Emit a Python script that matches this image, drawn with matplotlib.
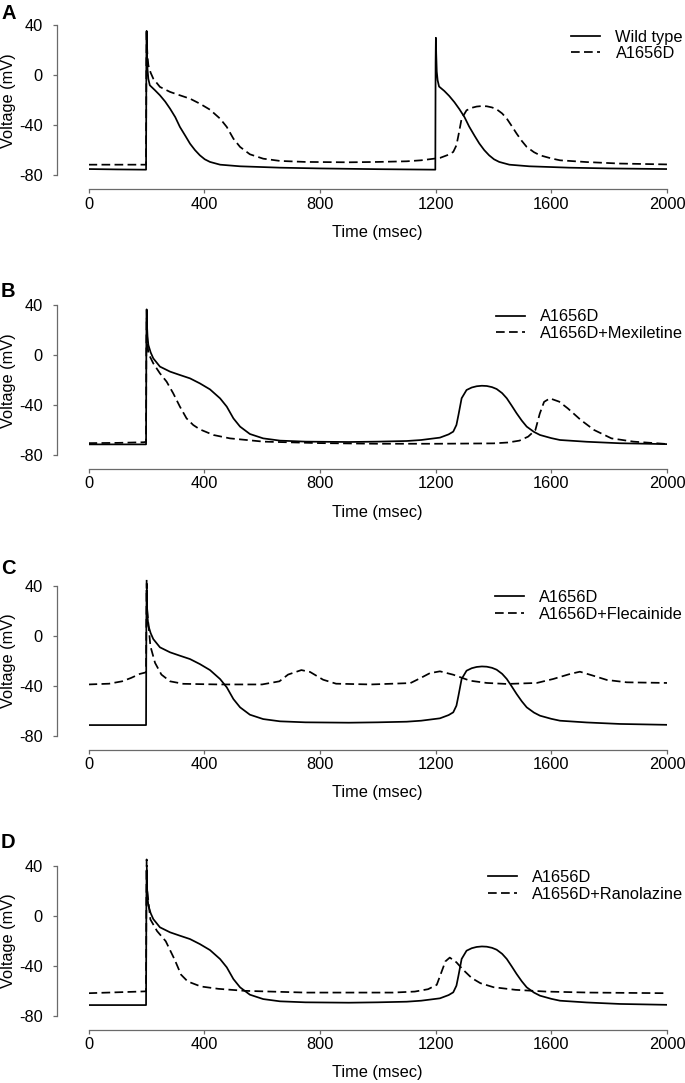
import matplotlib
matplotlib.use('Agg')
import matplotlib.pyplot as plt

plt.rcParams['font.family'] = ['Liberation Sans', 'DejaVu Sans']
plt.rcParams['axes.unicode_minus'] = False

# time axis (msec) and voltages (mV)
t_mut = [0, 100, 199, 200, 201, 202, 204, 207, 215, 224, 247, 282, 316, 351, 385, 420, 455,
         478, 501, 524, 558, 604, 662, 750, 900, 1000, 1100, 1150, 1215, 1245, 1261, 1272,
         1279, 1290, 1307, 1325, 1342, 1360, 1377, 1395, 1411, 1430, 1446, 1463, 1480, 1498,
         1515, 1540, 1561, 1600, 1630, 1722, 1837, 2000]
v_mut = [-71.5, -71.5, -71.5, 10, 36.5, 25, 15, 8, 2, -2.7, -9.3, -13.3, -16, -18.7, -22.7,
         -27.5, -34.7, -41.3, -50.7, -57.3, -63.2, -66.7, -68.5, -69.3, -69.6, -69.3, -68.8,
         -68, -66.1, -63.5, -61.3, -56, -48, -34.6, -28, -26, -25, -24.6, -24.8, -25.7, -27.2,
         -30.5, -34.6, -40.5, -46.6, -52.5, -57.3, -61.5, -64, -66.5, -68, -69.4, -70.6, -71.3]

t_wt = [0, 100, 199, 200, 201, 202, 204, 207, 212, 230, 247, 265, 282, 300, 316, 335, 351,
        368, 385, 402, 420, 455, 524, 662, 800, 1000, 1199, 1200, 1201, 1202, 1204, 1207, 1212,
        1230, 1247, 1265, 1282, 1300, 1316, 1335, 1351, 1368, 1385, 1402, 1420, 1455, 1524,
        1662, 1800, 2000]
v_wt = [-75, -75.3, -75.5, 10, 35.5, 20, 5, -3, -8, -12, -16, -21, -26.7, -33.5, -41.3, -48.5,
        -54.7, -59.8, -64, -67.2, -69.3, -71.5, -72.8, -73.9, -74.5, -75.1, -75.5, 10, 30, 18,
        3, -4, -9, -12.5, -16.5, -21.5, -27, -33.5, -41, -48.5, -54.5, -59.8, -64, -67.2,
        -69.3, -71.5, -72.8, -73.9, -74.5, -75]

t_mex = [0, 100, 190, 199, 200, 201, 203, 207, 224, 247, 270, 293, 316, 339, 362, 385, 432,
         489, 604, 800, 1000, 1200, 1400, 1450, 1490, 1520, 1545, 1560, 1575, 1595, 1627,
         1657, 1702, 1748, 1808, 1884, 2000]
v_mex = [-70.5, -70.3, -69.8, -69.5, 10, 30, 12, 1.3, -6.7, -14.7, -21.3, -30.7, -41.3, -50.7,
         -56, -59.5, -64, -66.7, -69.3, -70.5, -71, -71, -70.7, -70, -68.5, -65.3, -60, -47,
         -37.5, -34.7, -37.3, -42.7, -52, -60, -66.7, -69.3, -71.2]

t_fle = [0, 71, 116, 147, 177, 199, 200, 201, 203, 214, 230, 252, 282, 328, 449, 600, 660,
         690, 736, 766, 811, 856, 977, 1113, 1146, 1180, 1215, 1261, 1319, 1377, 1446, 1550,
         1607, 1665, 1699, 1745, 1792, 1861, 2000]
v_fle = [-39, -38.4, -36.5, -33.8, -30.6, -29.3, 10, 45, 20, -8.3, -21.7, -31.1, -36.5, -38.5,
         -39, -39, -36.5, -31.1, -27.5, -29, -35.2, -38.4, -39, -37.9, -34.1, -30, -28.5,
         -31.2, -36, -37.8, -38.6, -37.8, -34.6, -30.6, -28.8, -32, -35.4, -37.3, -37.8]

t_ran = [0, 177, 199, 200, 201, 203, 214, 237, 267, 298, 320, 343, 388, 449, 539, 751, 1053,
         1128, 1174, 1204, 1219, 1234, 1249, 1272, 1295, 1325, 1355, 1400, 1476, 1582, 1733, 2000]
v_ran = [-62, -60.7, -60.5, 10, 45, 20, -3, -12.3, -20.4, -35.2, -47.2, -52.6, -56.6, -58.5,
         -60.1, -61.5, -61.5, -60.7, -58.8, -55.3, -45.9, -36.5, -33.5, -37.3, -43.2, -49.9, -54,
         -57.2, -59.3, -60.7, -61.5, -62]

panels = ['A', 'B', 'C', 'D']
solid_labels = ['Wild type', 'A1656D', 'A1656D', 'A1656D']
dashed_labels = ['A1656D', 'A1656D+Mexiletine', 'A1656D+Flecainide', 'A1656D+Ranolazine']
solid_data = [(t_wt, v_wt), (t_mut, v_mut), (t_mut, v_mut), (t_mut, v_mut)]
dashed_data = [(t_mut, v_mut), (t_mex, v_mex), (t_fle, v_fle), (t_ran, v_ran)]

x_ticks = [0, 400, 800, 1200, 1600, 2000]
x_ticklabels = ['0', '400', '800', '1200', '1600', '2000']
y_ticks = [40, 0, -40, -80]
y_ticklabels = ['40', '0', '-40', '-80']

W, H = 685, 1083
fig = plt.figure(figsize=(W / 100, H / 100), dpi=100)

# pixel row of the -80 tick and baseline of the panel letter
ybot_px = [175.3, 455, 735.7, 1015.7]
letter_px = [19, 297, 574, 848]
fs = 11.8
spine_col = '#6a6a6a'

for i in range(4):
    ax = fig.add_axes([88.5 / W, 1 - ybot_px[i] / H, (667 - 88.5) / W, 160 / H])
    ts, vs = solid_data[i]
    td, vd = dashed_data[i]
    ax.plot(ts, vs, color='black', lw=1.25, label=solid_labels[i])
    ax.plot(td, vd, color='black', lw=1.25, ls=(0, (5, 2.5)), label=dashed_labels[i])
    ax.set_xlim(0, 2000)
    ax.set_ylim(-80, 48)

    for s in ['top', 'right']:
        ax.spines[s].set_visible(False)
    ax.spines['left'].set_position(('outward', 22.5))
    ax.spines['bottom'].set_position(('outward', 10.1))
    ax.spines['left'].set_bounds(-80, 40)
    ax.spines['bottom'].set_bounds(0, 2000)
    for s in ['left', 'bottom']:
        ax.spines[s].set_color(spine_col)
        ax.spines[s].set_linewidth(0.9)

    ax.set_xticks(x_ticks)
    ax.set_xticklabels(x_ticklabels)
    ax.set_yticks(y_ticks)
    ax.set_yticklabels(y_ticklabels)
    ax.tick_params(axis='both', direction='out', length=3, width=0.9, color=spine_col,
                   labelsize=fs, labelcolor='black')
    ax.tick_params(axis='y', pad=7.6)
    ax.tick_params(axis='x', pad=2.2)

    ax.set_ylabel('Voltage (mV)', fontsize=fs, va='center')
    ax.yaxis.set_label_coords(-0.1386, 0.466)
    ax.set_xlabel('Time (msec)', fontsize=fs, va='center')
    ax.xaxis.set_label_coords(0.5, -57 / 160)

    ax.legend(loc='upper right', bbox_to_anchor=((683 - 88.5) / 578.5, 0.911),
              frameon=False, fontsize=fs, borderpad=0, borderaxespad=0,
              handlelength=1.77, handletextpad=0.92, labelspacing=0.1)

    fig.text(1 / W, 1 - letter_px[i] / H, panels[i], fontsize=14.5, fontweight='bold',
             ha='left', va='baseline')

fig.savefig('out.png', dpi=100)
